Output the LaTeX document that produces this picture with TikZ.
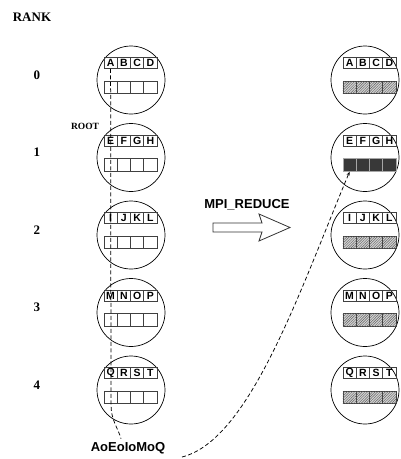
\documentclass[tikz,border=0pt]{standalone}
\usepackage{fontspec}
\setmainfont{Liberation Serif}
\setsansfont{Liberation Sans}
\usetikzlibrary{patterns.meta,arrows.meta}
\begin{document}
\begin{tikzpicture}[x=1pt,y=-1pt,
  proc/.style={draw=black,line width=0.7pt,circle,minimum size=68pt,inner sep=0pt},
  letterbox/.style={draw=black!75,line width=0.8pt,minimum width=13.25pt,minimum height=11pt,inner sep=0pt,font=\sffamily\bfseries\fontsize{10.5}{10.5}\selectfont},
  emptybox/.style={draw=black!75,line width=0.8pt,minimum width=13.25pt,minimum height=12.5pt,inner sep=0pt},
  hatchbox/.style={emptybox,fill=gray!35,postaction={pattern={Lines[angle=45,distance=1.8pt,line width=0.45pt]},pattern color=gray!75!black}},
  darkbox/.style={emptybox,draw=gray!70,fill=black!78},
  ranklbl/.style={font=\bfseries\fontsize{13}{13}\selectfont},
  sflbl/.style={font=\sffamily\bfseries\fontsize{13}{13}\selectfont},
  dashline/.style={line width=0.75pt,dash pattern=on 4pt off 2.5pt}
]
\useasboundingbox (0,0) rectangle (400,459);
\node[ranklbl] (rank) at (32,17) {RANK};
\foreach \k/\a/\b/\c/\d in {0/A/B/C/D,1/E/F/G/H,2/I/J/K/L,3/M/N/O/P,4/Q/R/S/T}{
  \pgfmathsetmacro{\cy}{80+77.5*\k}
  \node[ranklbl] (r\k) at (37,\cy-5) {\k};
  % left
  \node[proc] (L\k) at (131,\cy) {};
  \node[letterbox] (La\k) at (110.6,\cy-17) {\a};
  \node[letterbox] (Lb\k) at (123.85,\cy-17) {\b};
  \node[letterbox] (Lc\k) at (137.1,\cy-17) {\c};
  \node[letterbox] (Ld\k) at (150.35,\cy-17) {\d};
  \foreach \i in {0,1,2,3}{\node[emptybox] (Le\k\i) at (110.6+13.25*\i,\cy+7.5) {};}
  % right
  \node[proc] (R\k) at (365,\cy) {};
  \node[letterbox] (Ra\k) at (349.6,\cy-17) {\a};
  \node[letterbox] (Rb\k) at (362.85,\cy-17) {\b};
  \node[letterbox] (Rc\k) at (376.1,\cy-17) {\c};
  \node[letterbox] (Rd\k) at (389.35,\cy-17) {\d};
}
\foreach \k in {0,2,3,4}{
  \pgfmathsetmacro{\cy}{80+77.5*\k}
  \foreach \i in {0,1,2,3}{\node[hatchbox] (Rh\k\i) at (349.6+13.25*\i,\cy+7.5) {};}
}
\foreach \i in {0,1,2,3}{\node[darkbox] (Rh1\i) at (349.6+13.25*\i,165) {};}
\node[font=\bfseries\fontsize{9.5}{9.5}\selectfont] (root) at (85,126) {ROOT};
\node[sflbl] (mpi) at (247,205) {MPI\_REDUCE};
\node[sflbl] (res) at (128,448) {AoEoIoMoQ};
% hollow arrow
\draw[line width=0.8pt,draw=black!80] (213,223) -- (262,223) -- (259,214) -- (290,227.5) -- (259,241) -- (262,232) -- (213,232) -- cycle;
% dashed gather line
\draw[dashline] (La0.south) -- (111,405) .. controls (111,420) and (118,428) .. ([xshift=-7pt]res.north);
\coordinate (cstart) at (182,457);
\draw[dashline,-{Stealth[length=4pt,width=3pt]}] (cstart) .. controls (250,440) and (300,290) .. (Rh10.south);
\end{tikzpicture}
\end{document}
